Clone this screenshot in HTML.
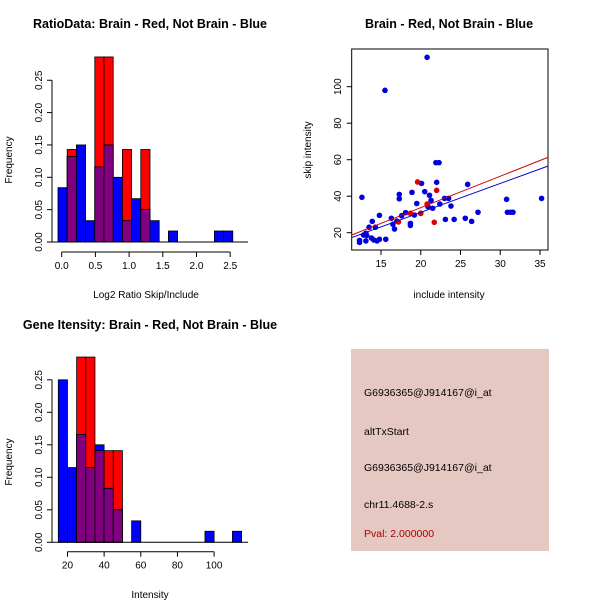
<!DOCTYPE html>
<html><head><meta charset="utf-8"><style>
html,body{margin:0;padding:0;background:#fff}
svg{display:block;font-family:"Liberation Sans",sans-serif}
</style></head><body>
<svg id="s" width="600" height="600" viewBox="0 0 600 600">
<text x="150" y="28" text-anchor="middle" font-weight="bold" font-size="12.5">RatioData: Brain - Red, Not Brain - Blue</text>
<text x="449" y="28" text-anchor="middle" font-weight="bold" font-size="12.5">Brain - Red, Not Brain - Blue</text>
<text x="150" y="329" text-anchor="middle" font-weight="bold" font-size="12.5">Gene Itensity: Brain - Red, Not Brain - Blue</text>
<text x="146" y="298" text-anchor="middle" font-size="10">Log2 Ratio Skip/Include</text>
<text transform="translate(12,160) rotate(-90)" text-anchor="middle" font-size="10">Frequency</text>
<text x="449" y="298" text-anchor="middle" font-size="10">include intensity</text>
<text transform="translate(311,150) rotate(-90)" text-anchor="middle" font-size="10">skip intensity</text>
<text x="150" y="598" text-anchor="middle" font-size="10">Intensity</text>
<text transform="translate(12,462) rotate(-90)" text-anchor="middle" font-size="10">Frequency</text>
<g>
<rect x="351" y="349" width="198" height="202" fill="#e6c8c2"/>
<text x="364" y="396" font-size="10.5">G6936365@J914167@i_at</text>
<text x="364" y="435" font-size="10.5">altTxStart</text>
<text x="364" y="471" font-size="10.5">G6936365@J914167@i_at</text>
<text x="364" y="508" font-size="10.5">chr11.4688-2.s</text>
<text x="364" y="537" font-size="10.5" fill="#aa0000">Pval: 2.000000</text>
</g>
</svg>
<script>
// Ratio histogram data
const ratioStart = -0.055, ratioWidth = 0.1365;
const ratioBlue = [0.084,0.132,0.15,0.033,0.116,0.15,0.10,0.033,0.067,0.05,0.033,0,0.017,0,0,0,0,0.017,0.017];
const ratioRed  = [0,0.143,0,0,0.286,0.286,0,0.143,0,0.143,0,0,0,0,0,0,0,0,0];
const ratioXTicks = [0,0.5,1,1.5,2,2.5];
const ratioXLabels = ["0.0","0.5","1.0","1.5","2.0","2.5"];
const freqTicks = [0,0.05,0.1,0.15,0.2,0.25];
const freqLabels = ["0.00","0.05","0.10","0.15","0.20","0.25"];
// Intensity histogram data
const intStart = 15, intWidth = 5;
const intBlue = [0.25,0.115,0.166,0.115,0.15,0.083,0.05,0,0.033,0,0,0,0,0,0,0,0.017,0,0,0.017];
const intRed  = [0,0,0.285,0.285,0.141,0.141,0.141,0,0,0,0,0,0,0,0,0,0,0,0,0];
const intXTicks = [20,40,60,80,100];
// Scatter data
const blueX = [20.8,15.5,12.6,21.9,22.3,17.3,17.3,18.9,20.1,20.5,22,21.1,19.5,21.3,22.4,23,23.5,23.8,25.9,20.9,21.5,19.2,18.1,17.6,18.7,18.7,16.3,16.5,16.7,17,14.8,13.9,14.3,13.5,13.1,12.8,13.2,13.8,14.1,14.5,14.8,15.6,12.3,12.3,13.1,24.2,23.1,25.6,26.4,27.2,30.8,30.9,31.3,31.6,35.2,20];
const blueY = [116.1,98,39.4,58.4,58.4,41,38.6,42.1,47,42.5,47.6,40.5,36,37.7,35.7,38.8,38.8,34.6,46.5,34.3,33.4,29.7,31,29.3,25.1,24,27.9,24.6,22,26.4,29.5,26.2,23,23,19.7,18.7,18.5,17.1,16,15.5,16.4,16.4,15.8,14.7,15.5,27.3,27.3,27.9,26.2,31.2,38.3,31.2,31.2,31.2,38.8,30.6];
const redX = [19.6,22,20.8,18.7,20,21.7,17.2];
const redY = [47.8,43.2,35.7,30.6,30.6,25.7,25.9];
const redFit = [-0.74,1.723];
const blueFit = [-0.59,1.586];
const scXTicks = [15,20,25,30,35];
const scYTicks = [20,40,60,80,100];

const svg = document.getElementById('s');
const NS = 'http://www.w3.org/2000/svg';
function mk(tag, attrs, parent){const e=document.createElementNS(NS,tag);for(const k in attrs)e.setAttribute(k,attrs[k]);(parent||svg).appendChild(e);return e;}

function hist(o){
  const g = mk('g',{});
  
  
  const X = v => o.x0 + (v - o.v0) * o.kx;
  const Y = v => o.base - v * o.ky;
  for (let i=0;i<o.blue.length;i++){
    const l = X(o.start + i*o.w), r = X(o.start + (i+1)*o.w);
    const b = o.blue[i], rd = o.red[i], m = Math.min(b, rd);
    if (rd > 0) { const e = mk('rect',{x:l,y:Y(rd),width:r-l,height:Y(0)-Y(rd),fill:'#ff0000',stroke:'#000','stroke-width':0.8},g);   }
    if (b > 0) { const e = mk('rect',{x:l,y:Y(b),width:r-l,height:Y(0)-Y(b),fill:'#0000ff',stroke:'#000','stroke-width':0.8},g);   }
    if (m > 0) { const e = mk('rect',{x:l,y:Y(m),width:r-l,height:Y(0)-Y(m),fill:'#800080',stroke:'#000','stroke-width':0.8},g);   }
  }
  mk('line',{x1:o.axL,x2:o.axR,y1:o.base,y2:o.base,stroke:'#000'},g);
  // y axis
  mk('line',{x1:o.axL,x2:o.axL,y1:Y(0),y2:Y(0.25),stroke:'#000'},g);
  freqTicks.forEach((t,i)=>{
    mk('line',{x1:o.axL-5,x2:o.axL,y1:Y(t),y2:Y(t),stroke:'#000'},g);
    const tx = mk('text',{transform:`translate(${o.axL-10},${Y(t)}) rotate(-90)`,'text-anchor':'middle','font-size':10},g);
    tx.textContent = freqLabels[i];
  });
  // x axis
  mk('line',{x1:X(o.xt[0]),x2:X(o.xt[o.xt.length-1]),y1:o.xaxY,y2:o.xaxY,stroke:'#000'},g);
  o.xt.forEach((t,i)=>{
    mk('line',{x1:X(t),x2:X(t),y1:o.xaxY,y2:o.xaxY+5,stroke:'#000'},g);
    const tx = mk('text',{x:X(t),y:o.xaxY+17,'text-anchor':'middle','font-size':10},g);
    tx.textContent = o.xl[i];
  });
}
hist({name:'ratio-histogram',blue:ratioBlue,red:ratioRed,start:ratioStart,w:ratioWidth,x0:61.7,v0:0,kx:67.4,base:242,ky:647,axL:52,axR:248,xaxY:252,xt:ratioXTicks,xl:ratioXLabels});
hist({name:'intensity-histogram',blue:intBlue,red:intRed,start:intStart,w:intWidth,x0:58.3,v0:15,kx:1.833,base:542.3,ky:650,axL:52,axR:248,xaxY:551.7,xt:intXTicks,xl:intXTicks.map(String)});

// scatter
const sg = mk('g',{});


const SX = v => 381 + (v-15)*7.95;
const SY = v => 232.7 - (v-20)*1.825;
const bx = mk('rect',{x:351.7,y:49,width:196.3,height:201,fill:'none',stroke:'#000'},sg);


const cp = mk('clipPath',{id:'cp'},sg); mk('rect',{x:351.7,y:49,width:196.3,height:201},cp);
blueX.forEach((x,i)=>{const c=mk('circle',{cx:SX(x),cy:SY(blueY[i]),r:2.8,fill:'#0000dd'},sg);});
redX.forEach((x,i)=>{const c=mk('circle',{cx:SX(x),cy:SY(redY[i]),r:2.8,fill:'#dd0000'},sg);});
[[redFit,'#cc0000','red-fit-line'],[blueFit,'#0000cc','blue-fit-line']].forEach(([f,col,n])=>{
  const x1=10,x2=38;
  const l=mk('line',{x1:SX(x1),x2:SX(x2),y1:SY(f[0]+f[1]*x1),y2:SY(f[0]+f[1]*x2),stroke:col,'stroke-width':1,'clip-path':'url(#cp)'},sg);
  
  
});
scXTicks.forEach(t=>{mk('line',{x1:SX(t),x2:SX(t),y1:250,y2:255,stroke:'#000'},sg);const tx=mk('text',{x:SX(t),y:267,'text-anchor':'middle','font-size':10},sg);tx.textContent=t;});
scYTicks.forEach(t=>{mk('line',{x1:346.7,x2:351.7,y1:SY(t),y2:SY(t),stroke:'#000'},sg);const tx=mk('text',{transform:`translate(${341},${SY(t)}) rotate(-90)`,'text-anchor':'middle','font-size':10},sg);tx.textContent=t;});
</script>
</body></html>
